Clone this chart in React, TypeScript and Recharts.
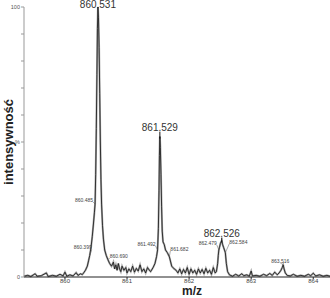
import { ComposedChart, Line, Scatter, XAxis, YAxis, Label } from 'recharts'

// profile segments, [m/z, intensity %]
const noiseLeft: [number, number][] = [
  [859.34, 0.3], [859.4, 0.6], [859.45, 0.2], [859.52, 1.2], [859.55, 0.3], [859.62, 0.5],
  [859.7, 1.5], [859.73, 0.2], [859.8, 0.6], [859.86, 0.3], [859.92, 1.0], [859.97, 0.4],
  [860.0, 1.8], [860.03, 0.3], [860.08, 0.8], [860.13, 0.4], [860.18, 1.6], [860.21, 0.6],
  [860.25, 1.2], [860.28, 0.9],
]
const peak860: [number, number][] = [
  [860.3, 1.5], [860.33, 2.5], [860.36, 4], [860.38, 6], [860.399, 8], [860.42, 11],
  [860.44, 15], [860.46, 20], [860.475, 24], [860.485, 27], [860.495, 38], [860.505, 55],
  [860.515, 75], [860.523, 92], [860.531, 100], [860.54, 96], [860.55, 85], [860.56, 68],
  [860.57, 50], [860.58, 36], [860.59, 27], [860.605, 19], [860.62, 14], [860.64, 10],
  [860.665, 8], [860.69, 6.5], [860.72, 5], [860.75, 4],
]
const noiseMid1: [number, number][] = [
  [860.78, 5.5], [860.8, 3], [860.82, 4.5], [860.84, 2.5], [860.86, 5], [860.88, 3],
  [860.9, 2], [860.92, 4], [860.95, 2.5], [860.98, 3.5], [861.0, 1.5], [861.03, 3],
  [861.06, 2], [861.09, 4], [861.12, 1.8], [861.15, 3.2], [861.18, 2.2], [861.21, 4.5],
  [861.24, 2], [861.27, 3], [861.3, 1.5], [861.33, 3.5], [861.36, 2.5],
]
const peak861: [number, number][] = [
  [861.38, 2], [861.42, 3.5], [861.45, 5], [861.475, 7.5], [861.492, 10], [861.505, 18],
  [861.515, 32], [861.522, 45], [861.529, 52], [861.537, 48], [861.547, 38], [861.557, 26],
  [861.567, 17], [861.58, 13], [861.6, 12], [861.62, 10], [861.65, 9], [861.682, 7.5],
  [861.72, 4], [861.76, 3],
]
const noiseMid2: [number, number][] = [
  [861.79, 2.5], [861.82, 1.5], [861.85, 3], [861.88, 1.2], [861.91, 2.8], [861.94, 1.5],
  [861.97, 3.5], [862.0, 1], [862.03, 3], [862.06, 1.5], [862.09, 2.5], [862.12, 1],
  [862.15, 3], [862.18, 1.5], [862.21, 2.8], [862.24, 1.2], [862.27, 3.2], [862.3, 1.5],
  [862.33, 2.5], [862.36, 1], [862.39, 3.5], [862.42, 1.5],
]
const peak862: [number, number][] = [
  [862.44, 2], [862.46, 5], [862.47, 8], [862.479, 10], [862.49, 11], [862.505, 12.5],
  [862.515, 13], [862.526, 13.5], [862.54, 12], [862.555, 11], [862.57, 10], [862.584, 9],
  [862.6, 5], [862.62, 2],
]
const noiseRight: [number, number][] = [
  [862.65, 0.8], [862.7, 0.3], [862.75, 1.0], [862.8, 0.4], [862.85, 1.2], [862.88, 0.5],
  [862.93, 0.8], [862.97, 0.3], [863.0, 2.2], [863.02, 0.4], [863.08, 0.6], [863.14, 0.3],
  [863.2, 1.0], [863.25, 0.5], [863.3, 1.3], [863.34, 0.6], [863.38, 1.8], [863.42, 0.8],
]
const peak863: [number, number][] = [
  [863.45, 1.5], [863.48, 2.5], [863.5, 3.5], [863.516, 4.5], [863.53, 3], [863.55, 1.5],
  [863.58, 0.6],
]
const noiseEnd: [number, number][] = [
  [863.63, 0.4], [863.68, 1.0], [863.74, 0.3], [863.8, 0.6], [863.86, 0.3], [863.92, 1.0],
  [863.96, 0.5], [864.0, 1.4], [864.04, 0.4], [864.1, 0.8], [864.16, 0.3], [864.22, 0.6],
  [864.27, 0.3],
]

// annotated peaks
const peakLabels = ['860.531', '861.529', '862.526', '860.399', '860.485', '860.690', '861.492', '861.682', '862.479', '862.584', '863.516']
const peakMz = [860.531, 861.529, 862.526, 860.399, 860.485, 860.69, 861.492, 861.682, 862.479, 862.584, 863.516]
const peakIntensity = [100, 52, 13.5, 8, 27, 6.5, 10, 7.5, 10, 9, 4.5]
const majorPeaks = ['860.531', '861.529', '862.526']

const xTicks = [860, 861, 862, 863, 864]
const yTicks = [0, 10, 20, 30, 40, 50, 60, 70, 80, 90, 100]

const profile = [
  ...noiseLeft, ...peak860, ...noiseMid1, ...peak861, ...noiseMid2,
  ...peak862, ...noiseRight, ...peak863, ...noiseEnd,
].map(([mz, intensity]) => ({ mz, intensity }))

const peaks = peakLabels.map((label, i) => ({ label, mz: peakMz[i], intensity: peakIntensity[i] }))

// label placement relative to the peak point: text offset, anchor
const labelLayout: Record<string, { dx: number; dy: number; anchor: 'start' | 'middle' | 'end' }> = {
  '860.531': { dx: 0, dy: 1, anchor: 'middle' },
  '861.529': { dx: 0, dy: -6, anchor: 'middle' },
  '862.526': { dx: 0, dy: -4, anchor: 'middle' },
  '860.399': { dx: 2, dy: -6, anchor: 'end' },
  '860.485': { dx: -2, dy: -2, anchor: 'end' },
  '860.690': { dx: 2, dy: -1, anchor: 'start' },
  '861.492': { dx: -2, dy: -4, anchor: 'end' },
  '861.682': { dx: 1, dy: -6, anchor: 'start' },
  '862.479': { dx: -2, dy: -5, anchor: 'end' },
  '862.584': { dx: 4, dy: -9, anchor: 'start' },
  '863.516': { dx: -3, dy: -2, anchor: 'middle' },
}

const font = '"Liberation Sans", Arial, sans-serif'

function PeakMark(props: any) {
  const { cx, cy, payload } = props
  const lay = labelLayout[payload.label]
  const major = majorPeaks.includes(payload.label)
  const tx = cx + lay.dx
  const ty = cy + lay.dy
  return (
    <g>
      {major ? (
        <line x1={cx} y1={ty + 1} x2={cx} y2={cy + 2} stroke="#111" strokeWidth={1} />
      ) : (
        <line x1={tx} y1={ty} x2={cx} y2={cy} stroke="#555" strokeWidth={0.5} />
      )}
      <text
        x={tx}
        y={ty}
        textAnchor={lay.anchor}
        fontSize={major ? 10 : 5}
        fill={major ? '#333' : '#444'}
        fontFamily={font}
      >
        {payload.label}
      </text>
    </g>
  )
}

function yTickText(v: number) {
  if (v === 100) return '100'
  if (v === 50) return '%'
  if (v === 0) return '0'
  return ''
}

export default function App() {
  return (
    <div style={{ position: 'absolute', left: 0, top: 0, background: '#fff' }}>
      <ComposedChart width={330} height={298} margin={{ top: 7, right: 0, bottom: 0, left: 0 }}>
        <XAxis
          type="number"
          dataKey="mz"
          domain={[859.34, 864.27]}
          ticks={xTicks}
          height={21}
          stroke="#222"
          tickSize={2}
          tickMargin={0}
          tick={{ fontSize: 6, fill: '#444', fontFamily: font }}
        >
          <Label
            content={(p: any) => {
              const vb = p.viewBox
              return (
                <text
                  x={vb.x + vb.width / 2 + 15}
                  y={vb.y + vb.height - 3}
                  textAnchor="middle"
                  fontSize={12}
                  fontWeight="bold"
                  fill="#222"
                  fontFamily={font}
                >
                  m/z
                </text>
              )
            }}
          />
        </XAxis>
        <YAxis
          type="number"
          dataKey="intensity"
          domain={[0, 100]}
          ticks={yTicks}
          width={24}
          stroke="#999"
          tickSize={3}
          tickMargin={1}
          tickFormatter={yTickText}
          tick={{ fontSize: 5.5, fill: '#555', fontFamily: font }}
        >
          <Label
            content={(p: any) => {
              const vb = p.viewBox
              const cy = vb.y + vb.height / 2
              return (
                <text
                  x={8}
                  y={cy}
                  transform={`rotate(-90 8 ${cy})`}
                  textAnchor="middle"
                  dominantBaseline="central"
                  fontSize={13}
                  fontWeight="bold"
                  fill="#222"
                  fontFamily={font}
                >
                  intensywność
                </text>
              )
            }}
          />
        </YAxis>
        <Line
          data={profile}
          dataKey="intensity"
          type="linear"
          stroke="#aaa"
          strokeWidth={2}
          dot={false}
          isAnimationActive={false}
        />
        <Line
          data={profile}
          dataKey="intensity"
          type="linear"
          stroke="#111"
          strokeWidth={0.8}
          dot={false}
          isAnimationActive={false}
        />
        <Scatter data={peaks} dataKey="intensity" shape={PeakMark} isAnimationActive={false} />
      </ComposedChart>
    </div>
  )
}
